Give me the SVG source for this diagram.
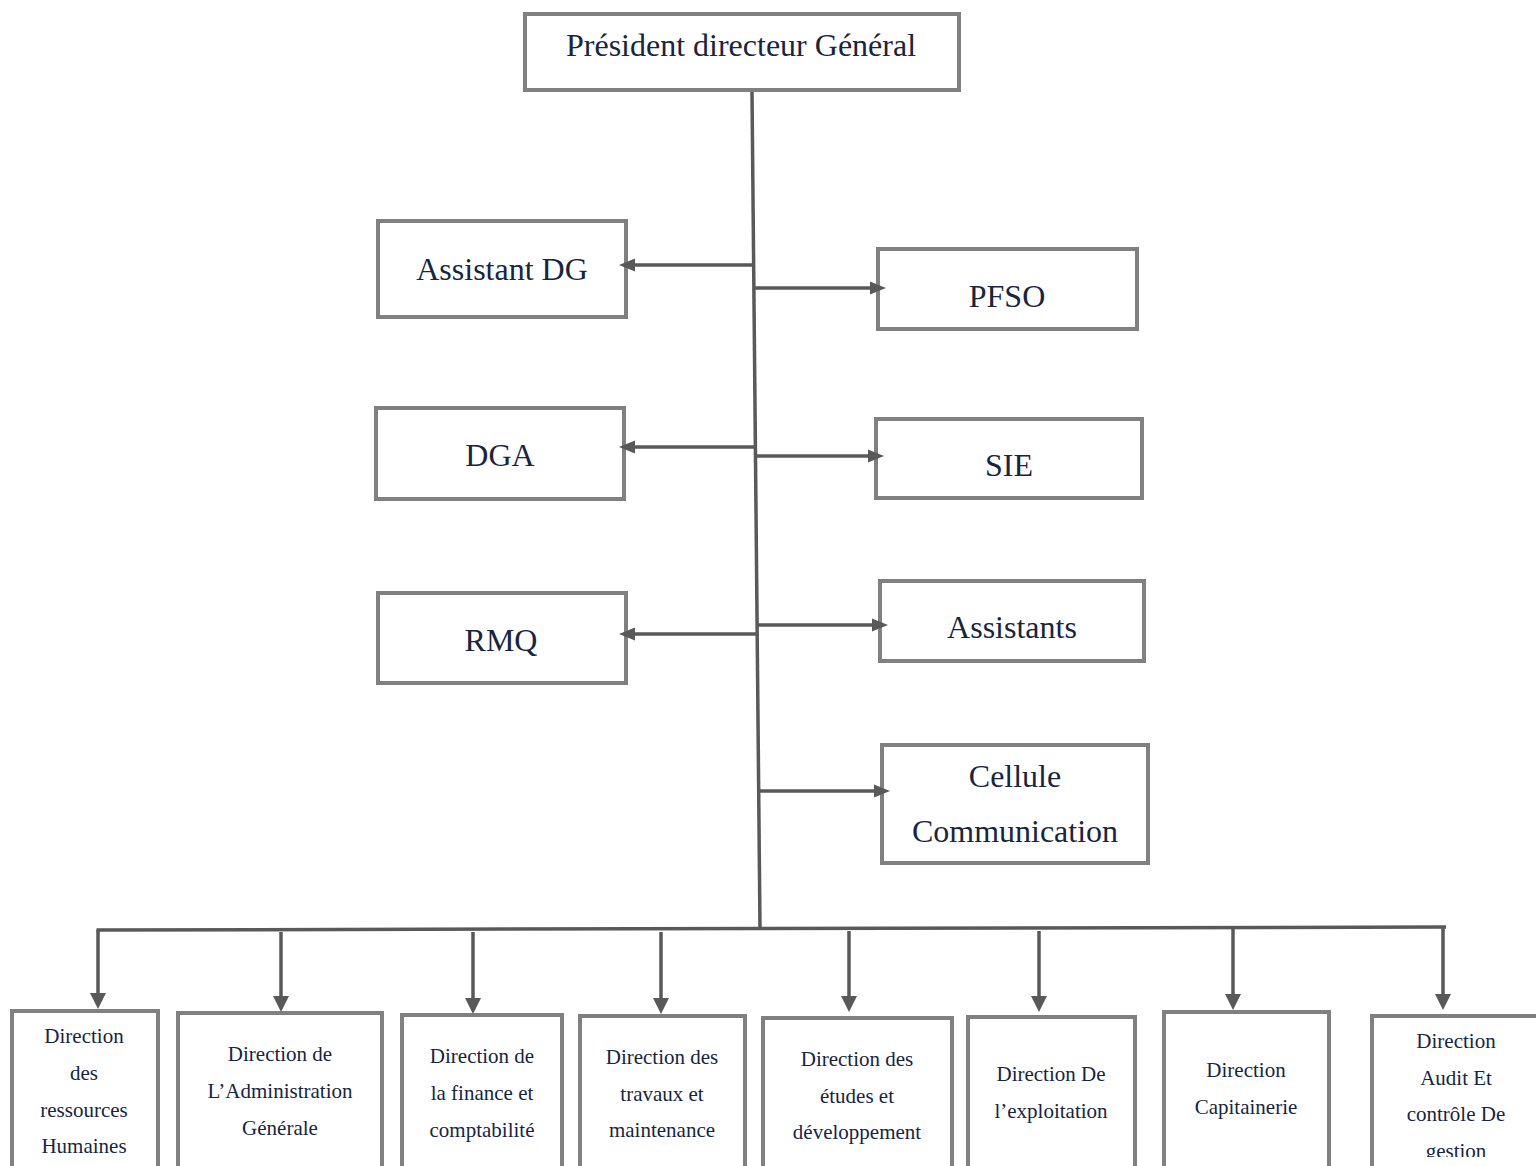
<svg xmlns="http://www.w3.org/2000/svg" width="1536" height="1166" viewBox="0 0 1536 1166">
<style>
.box{fill:#fff;stroke:#808080;stroke-width:4}
text{font-family:"Liberation Serif","Times New Roman",Tinos,"DejaVu Serif",serif;fill:#17253f;text-anchor:middle}
.big{font-size:32px}
.sm{font-size:21px}
.c{fill:none;stroke:#595959;stroke-width:3.5}
.hd{fill:#595959}
</style>
<defs>
<path id="aR" d="M-16,-6.5 L0,0 L-16,6.5 z"/>
<path id="aL" d="M16,-6.5 L0,0 L16,6.5 z"/>
<path id="aD" d="M-8,-16 L8,-16 L0,0 z"/>
<clipPath id="clipG"><rect x="1370" y="1000" width="170" height="157"/></clipPath>
</defs>
<rect width="1536" height="1166" fill="#fff"/>
<g id="pdg"><rect class="box" x="525" y="14" width="434" height="76"/><text class="big" x="741" y="56">Président directeur Général</text></g>
<g id="assistant-dg"><rect class="box" x="378" y="221" width="248" height="96"/><text class="big" x="502" y="280">Assistant DG</text></g>
<g id="pfso"><rect class="box" x="878" y="249" width="259" height="80"/><text class="big" x="1007" y="307">PFSO</text></g>
<g id="dga"><rect class="box" x="376" y="408" width="248" height="91"/><text class="big" x="500" y="466">DGA</text></g>
<g id="sie"><rect class="box" x="876" y="419" width="266" height="79"/><text class="big" x="1009" y="476">SIE</text></g>
<g id="rmq"><rect class="box" x="378" y="593" width="248" height="90"/><text class="big" x="501" y="651">RMQ</text></g>
<g id="assistants"><rect class="box" x="880" y="581" width="264" height="80"/><text class="big" x="1012" y="638">Assistants</text></g>
<g id="cellule"><rect class="box" x="882" y="745" width="266" height="118"/><text class="big" x="1015" y="787">Cellule</text><text class="big" x="1015" y="842">Communication</text></g>
<g id="d-rh"><rect class="box" x="12" y="1011" width="146" height="180"/><text class="sm" x="84" y="1043">Direction</text><text class="sm" x="84" y="1080">des</text><text class="sm" x="84" y="1117">ressources</text><text class="sm" x="84" y="1153">Humaines</text></g>
<g id="d-admin"><rect class="box" x="178" y="1013" width="204" height="180"/><text class="sm" x="280" y="1061">Direction de</text><text class="sm" x="280" y="1098">L’Administration</text><text class="sm" x="280" y="1135">Générale</text></g>
<g id="d-fin"><rect class="box" x="402" y="1015" width="160" height="180"/><text class="sm" x="482" y="1063">Direction de</text><text class="sm" x="482" y="1100">la finance et</text><text class="sm" x="482" y="1137">comptabilité</text></g>
<g id="d-trav"><rect class="box" x="580" y="1016" width="165" height="180"/><text class="sm" x="662" y="1064">Direction des</text><text class="sm" x="662" y="1101">travaux et</text><text class="sm" x="662" y="1137">maintenance</text></g>
<g id="d-etudes"><rect class="box" x="763" y="1018" width="189" height="180"/><text class="sm" x="857" y="1066">Direction des</text><text class="sm" x="857" y="1103">études et</text><text class="sm" x="857" y="1139">développement</text></g>
<g id="d-exploit"><rect class="box" x="968" y="1017" width="167" height="180"/><text class="sm" x="1051" y="1081">Direction De</text><text class="sm" x="1051" y="1118">l’exploitation</text></g>
<g id="d-capit"><rect class="box" x="1164" y="1012" width="165" height="180"/><text class="sm" x="1246" y="1077">Direction</text><text class="sm" x="1246" y="1114">Capitainerie</text></g>
<g id="d-audit"><rect class="box" x="1372" y="1016" width="180" height="180"/><text class="sm" x="1456" y="1048">Direction</text><text class="sm" x="1456" y="1085">Audit Et</text><text class="sm" x="1456" y="1121">contrôle De</text><text class="sm" x="1456" y="1158" clip-path="url(#clipG)">gestion</text></g>
<g id="connectors">
<line class="c" x1="752" y1="92" x2="760" y2="928"/>
<line class="c" x1="753.5" y1="265" x2="634" y2="265"/><use href="#aL" class="hd" x="619" y="265"/>
<line class="c" x1="753.5" y1="288" x2="872" y2="288"/><use href="#aR" class="hd" x="886" y="288"/>
<line class="c" x1="755" y1="447" x2="634" y2="447"/><use href="#aL" class="hd" x="619" y="447"/>
<line class="c" x1="755" y1="456" x2="870" y2="456"/><use href="#aR" class="hd" x="884" y="456"/>
<line class="c" x1="758" y1="634" x2="634" y2="634"/><use href="#aL" class="hd" x="619" y="634"/>
<line class="c" x1="758" y1="625" x2="874" y2="625"/><use href="#aR" class="hd" x="888" y="625"/>
<line class="c" x1="759" y1="791" x2="876" y2="791"/><use href="#aR" class="hd" x="890" y="791"/>
<line class="c" x1="96.5" y1="930" x2="1446" y2="927"/>
<line class="c" x1="98" y1="930" x2="98" y2="995"/><use href="#aD" class="hd" x="98" y="1009"/>
<line class="c" x1="281" y1="932" x2="281" y2="998"/><use href="#aD" class="hd" x="281" y="1012"/>
<line class="c" x1="473" y1="932" x2="473" y2="1000"/><use href="#aD" class="hd" x="473" y="1014"/>
<line class="c" x1="661" y1="932" x2="661" y2="1000"/><use href="#aD" class="hd" x="661" y="1014"/>
<line class="c" x1="849" y1="931" x2="849" y2="998"/><use href="#aD" class="hd" x="849" y="1012"/>
<line class="c" x1="1039" y1="931" x2="1039" y2="998"/><use href="#aD" class="hd" x="1039" y="1012"/>
<line class="c" x1="1233" y1="929" x2="1233" y2="996"/><use href="#aD" class="hd" x="1233" y="1010"/>
<line class="c" x1="1443" y1="927" x2="1443" y2="996"/><use href="#aD" class="hd" x="1443" y="1010"/>
</g>
</svg>
